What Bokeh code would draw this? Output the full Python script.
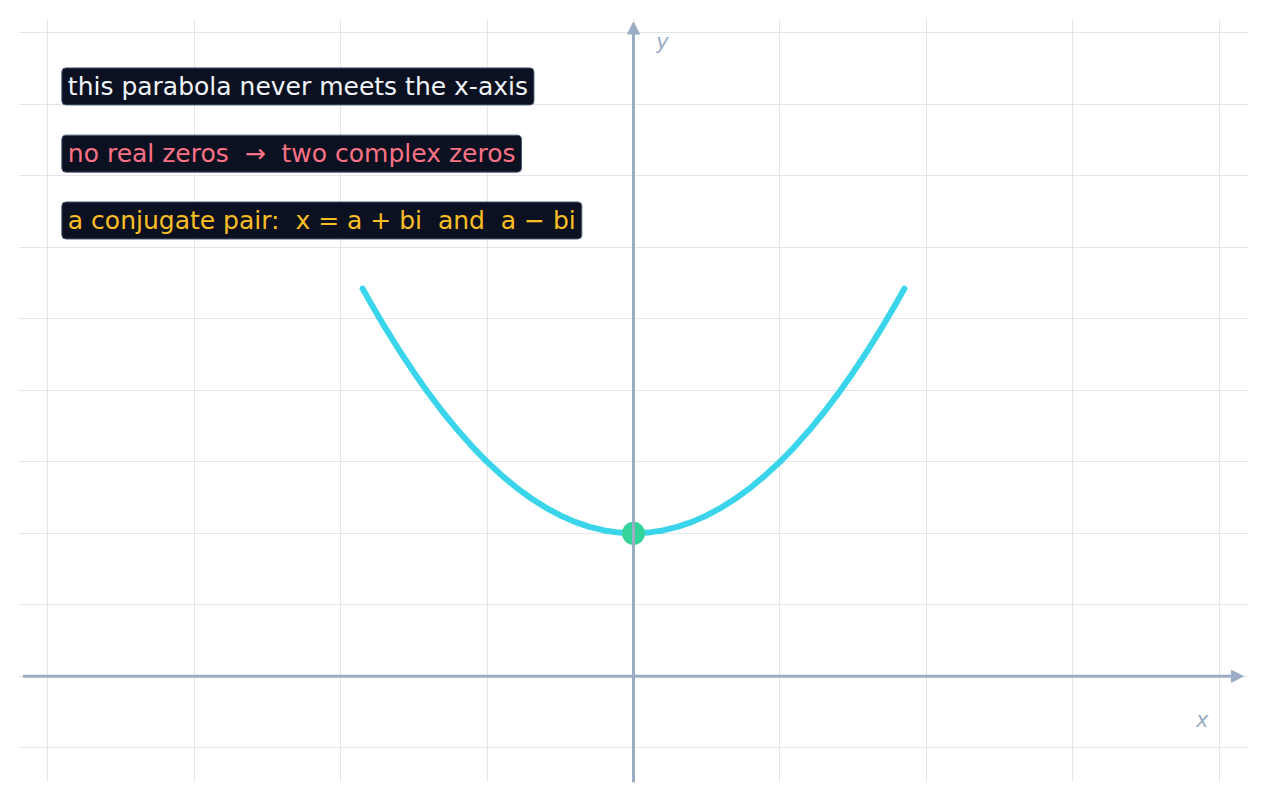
from bokeh.plotting import figure
from bokeh.models import Label, Arrow, NormalHead, SingleIntervalTicker
from bokeh.embed import file_html
from bokeh.resources import INLINE

curve_x = [-1.85, -1.8, -1.7, -1.6, -1.5, -1.4, -1.3, -1.2, -1.1, -1.0, -0.9, -0.8, -0.7,
           -0.6, -0.5, -0.4, -0.3, -0.2, -0.1, 0.0, 0.1, 0.2, 0.3, 0.4, 0.5, 0.6, 0.7,
           0.8, 0.9, 1.0, 1.1, 1.2, 1.3, 1.4, 1.5, 1.6, 1.7, 1.8, 1.85]
curve_y = [5.4225, 5.24, 4.89, 4.56, 4.25, 3.96, 3.69, 3.44, 3.21, 3.0, 2.81, 2.64, 2.49,
           2.36, 2.25, 2.16, 2.09, 2.04, 2.01, 2.0, 2.01, 2.04, 2.09, 2.16, 2.25, 2.36, 2.49,
           2.64, 2.81, 3.0, 3.21, 3.44, 3.69, 3.96, 4.25, 4.56, 4.89, 5.24, 5.4225]
vertex_x = [0.0]
vertex_y = [2.0]

NB = "\u00a0"
notes = ["this parabola never meets the x-axis",
         "no real zeros " + NB + "\u2192" + NB + " two complex zeros",
         "a conjugate pair: " + NB + "x = a + bi " + NB + "and " + NB + "a \u2212 bi"]
note_colors = ["#f1f5f9", "#fb7185", "#fbbf24"]

AXIS = "#9aadc3"

p = figure(width=1258, height=792, x_range=(-4.2, 4.2), y_range=(-1.485, 9.2),
           output_backend="svg", toolbar_location=None,
           min_border_left=18, min_border_right=10, min_border_top=18, min_border_bottom=10)
p.outline_line_color = None
p.background_fill_color = "white"
p.xaxis.ticker = SingleIntervalTicker(interval=1)
p.yaxis.ticker = SingleIntervalTicker(interval=1)
p.axis.visible = False
p.grid.grid_line_color = "#e3e5e9"
p.grid.grid_line_width = 1

# axes with arrowheads
p.add_layout(Arrow(x_start=-4.17, y_start=0, x_end=4.165, y_end=0,
                   line_color=AXIS, line_width=3,
                   end=NormalHead(size=12, fill_color=AXIS, line_color=AXIS, line_width=1)))
p.add_layout(Arrow(x_start=0, y_start=-1.485, x_end=0, y_end=9.15,
                   line_color=AXIS, line_width=3,
                   end=NormalHead(size=12, fill_color=AXIS, line_color=AXIS, line_width=1)))

p.add_layout(Label(x=3.884, y=-0.615, text="x", text_font="DejaVu Sans",
                   text_font_style="italic", text_font_size="21px", text_color=AXIS,
                   text_align="center", text_baseline="middle"))
p.add_layout(Label(x=0.198, y=8.87, text="y", text_font="DejaVu Sans",
                   text_font_style="italic", text_font_size="21px", text_color=AXIS,
                   text_align="center", text_baseline="middle"))

p.line(curve_x, curve_y, line_color="#3ad5ea", line_width=6, line_cap="round")
p.scatter(vertex_x, vertex_y, size=23, fill_color="#34d399", line_color=None)

note_y = [8.25, 7.31, 6.375]
for t, c, yy in zip(notes, note_colors, note_y):
    p.add_layout(Label(x=-3.904, y=yy, text=t, text_font="DejaVu Sans",
                       text_font_size="25px", text_color=c,
                       text_align="left", text_baseline="middle",
                       background_fill_color="#0b1120", border_line_color="#4b5a72",
                       border_line_width=1, padding=(6, 4), border_radius=4))

open("out.html", "w").write(file_html(p, INLINE))
